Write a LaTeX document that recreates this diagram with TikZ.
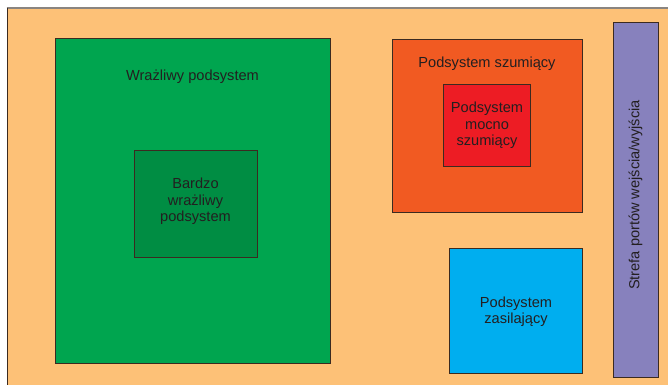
\documentclass[tikz,border=0pt]{standalone}
\usepackage{fontspec}
\setmainfont{Liberation Sans}
\definecolor{bgor}{HTML}{FDC177}
\definecolor{gr}{HTML}{00A54F}
\definecolor{dgr}{HTML}{008D43}
\definecolor{orr}{HTML}{F15A22}
\definecolor{rd}{HTML}{ED1C24}
\definecolor{bl}{HTML}{00AEEF}
\definecolor{pu}{HTML}{8781BD}
\definecolor{edge}{HTML}{3B2A20}
\definecolor{txt}{HTML}{231F20}
\definecolor{topline}{HTML}{8A8580}
\begin{document}
\begin{tikzpicture}[x=1pt,y=-1pt,
  box/.style={draw=edge, line width=0.8pt, inner sep=0pt, outer sep=0pt},
  lbl/.style={text=txt, font=\fontsize{14.6}{16.3}\selectfont, align=center, inner sep=0pt}]
\useasboundingbox (0,0) rectangle (668,385);
\fill[white] (0,0) rectangle (668,385);
\fill[bgor] (7,8) rectangle (668,385);
\draw[topline, line width=1.2pt] (6.5,8) -- (668,8);
\draw[edge, line width=1pt] (7,8) -- (7,385);
% boxes
\node[box, fill=gr, minimum width=275pt, minimum height=325pt] (sens) at (192.5,200.5) {};
\node[box, fill=dgr, minimum width=123pt, minimum height=107pt] (vsens) at (195.5,203.5) {};
\node[box, fill=orr, minimum width=190pt, minimum height=173pt] (noisy) at (487,125.5) {};
\node[box, fill=rd, minimum width=87pt, minimum height=82pt] (vnoisy) at (487,125) {};
\node[box, fill=bl, minimum width=133pt, minimum height=125pt] (power) at (515.5,311) {};
\node[box, fill=pu, minimum width=45pt, minimum height=355pt] (io) at (636,199.5) {};
% labels
\node[lbl] (sensl) at (192.5,76.5) {Wrażliwy podsystem};
\node[lbl] (vsensl) at (195.5,201.5) {Bardzo\\wrażliwy\\podsystem};
\node[lbl] (noisyl) at (487,63.5) {Podsystem szumiący};
\node[lbl] (vnoisyl) at (487,125.5) {Podsystem\\mocno\\szumiący};
\node[lbl] (powerl) at (516,311.5) {Podsystem\\zasilający};
\node[lbl, rotate=90] (iol) at (635.5,195) {Strefa portów wejścia/wyjścia};
\end{tikzpicture}
\end{document}
